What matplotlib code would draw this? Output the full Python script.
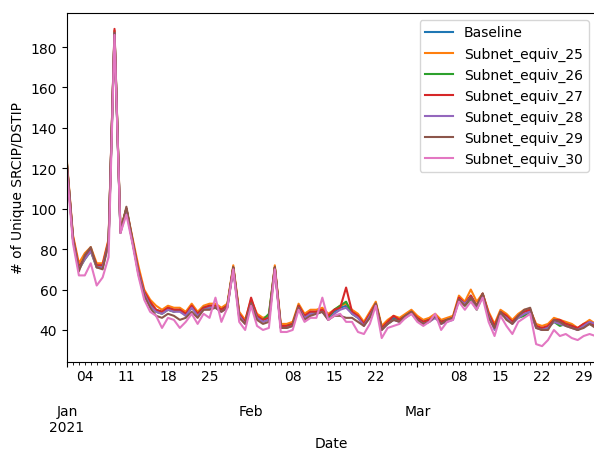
import matplotlib
matplotlib.use("Agg")
import matplotlib.pyplot as plt
import pandas as pd

dates = pd.date_range("2021-01-01", "2021-03-31", freq="D")

baseline = [122, 86, 71, 76, 80, 72, 72, 84, 188, 89,
            100, 84, 70, 58, 53, 50, 49, 51, 50, 50,
            48, 52, 48, 51, 52, 52, 50, 52, 71, 48,
            44, 54, 47, 45, 46, 71, 42, 42, 43, 52,
            47, 49, 49, 50, 46, 49, 51, 52, 49, 47,
            43, 48, 53, 41, 43, 46, 45, 47, 49, 46,
            44, 45, 47, 44, 45, 46, 56, 53, 57, 52,
            58, 48, 41, 49, 47, 44, 47, 49, 50, 42,
            40, 41, 45, 44, 43, 42, 40, 42, 44, 42]

subnet_25 = [123, 87, 73, 78, 81, 73, 73, 85, 188, 90,
             100, 86, 72, 60, 55, 52, 50, 52, 51, 51,
             49, 53, 49, 52, 53, 53, 51, 53, 72, 49,
             45, 55, 48, 46, 47, 72, 43, 43, 44, 53,
             48, 50, 50, 51, 48, 50, 52, 53, 50, 48,
             44, 49, 54, 42, 45, 47, 46, 48, 50, 47,
             45, 46, 48, 45, 46, 47, 57, 54, 60, 54,
             58, 49, 43, 50, 48, 45, 48, 50, 50, 43,
             42, 43, 46, 45, 44, 43, 41, 43, 45, 43]

subnet_26 = [122, 85, 70, 75, 79, 71, 71, 83, 187, 89,
             100, 84, 69, 58, 53, 49, 48, 50, 49, 50,
             47, 51, 48, 51, 51, 51, 50, 52, 71, 47,
             44, 54, 46, 45, 48, 71, 41, 42, 43, 52,
             46, 48, 49, 49, 46, 50, 52, 54, 48, 46,
             43, 47, 53, 41, 43, 45, 45, 47, 49, 45,
             44, 45, 46, 44, 45, 46, 55, 52, 55, 50,
             57, 47, 41, 48, 46, 44, 46, 47, 49, 42,
             40, 41, 44, 42, 43, 42, 40, 42, 43, 42]

subnet_27 = [122, 86, 71, 76, 80, 72, 72, 84, 189, 89,
             100, 85, 70, 59, 54, 50, 49, 51, 50, 50,
             48, 52, 48, 51, 52, 52, 50, 52, 71, 48,
             44, 56, 47, 45, 46, 71, 42, 42, 43, 52,
             47, 49, 49, 50, 47, 50, 51, 61, 49, 47,
             43, 48, 53, 41, 44, 47, 45, 47, 49, 46,
             44, 45, 47, 44, 45, 46, 56, 53, 57, 52,
             58, 48, 42, 49, 47, 44, 47, 49, 50, 42,
             41, 42, 45, 45, 43, 42, 41, 43, 44, 42]

subnet_28 = [121, 85, 70, 75, 79, 71, 71, 83, 187, 88,
             99, 84, 69, 58, 52, 49, 48, 50, 49, 49,
             47, 51, 47, 50, 51, 51, 49, 51, 70, 47,
             43, 53, 46, 44, 45, 70, 41, 41, 42, 51,
             46, 48, 48, 49, 45, 48, 50, 51, 48, 46,
             42, 47, 52, 40, 43, 45, 44, 46, 48, 45,
             43, 44, 46, 43, 44, 45, 55, 53, 56, 51,
             57, 47, 40, 48, 46, 43, 46, 48, 49, 41,
             40, 41, 44, 43, 42, 41, 40, 42, 44, 43]

subnet_29 = [121, 85, 69, 77, 81, 71, 70, 83, 187, 88,
             101, 85, 68, 57, 51, 47, 46, 48, 47, 45,
             46, 49, 46, 50, 50, 51, 49, 51, 71, 46,
             43, 53, 45, 43, 44, 71, 41, 41, 42, 51,
             45, 47, 48, 49, 45, 47, 47, 46, 46, 44,
             42, 46, 53, 40, 43, 45, 44, 47, 49, 45,
             43, 44, 47, 43, 45, 46, 55, 52, 56, 52,
             58, 46, 41, 49, 45, 43, 47, 50, 51, 41,
             40, 40, 45, 44, 42, 41, 40, 41, 43, 41]

subnet_30 = [118, 83, 67, 67, 73, 62, 66, 76, 186, 88,
             97, 83, 67, 55, 49, 47, 41, 46, 45, 41,
             44, 48, 43, 48, 46, 56, 44, 51, 70, 44,
             40, 52, 42, 40, 41, 70, 39, 39, 40, 50,
             44, 46, 46, 56, 45, 47, 48, 44, 44, 39,
             38, 43, 52, 36, 41, 42, 43, 46, 48, 44,
             42, 44, 48, 40, 44, 45, 54, 50, 54, 50,
             56, 44, 37, 47, 42, 38, 44, 46, 48, 33,
             32, 35, 40, 37, 38, 36, 35, 37, 38, 37]

df = pd.DataFrame({
    "Baseline": baseline,
    "Subnet_equiv_25": subnet_25,
    "Subnet_equiv_26": subnet_26,
    "Subnet_equiv_27": subnet_27,
    "Subnet_equiv_28": subnet_28,
    "Subnet_equiv_29": subnet_29,
    "Subnet_equiv_30": subnet_30,
}, index=pd.Index(dates, name="Date"))

fig = plt.figure(figsize=(5.94, 4.52), dpi=100)
ax = fig.add_axes([67 / 594, 89 / 452, 528.5 / 594, 349 / 452])
df.plot(ax=ax)
ax.set_ylabel("# of Unique SRCIP/DSTIP")
ax.set_xlabel("Date", labelpad=1)
ax.legend(loc="upper right")

fig.savefig("out.png", dpi=100)
